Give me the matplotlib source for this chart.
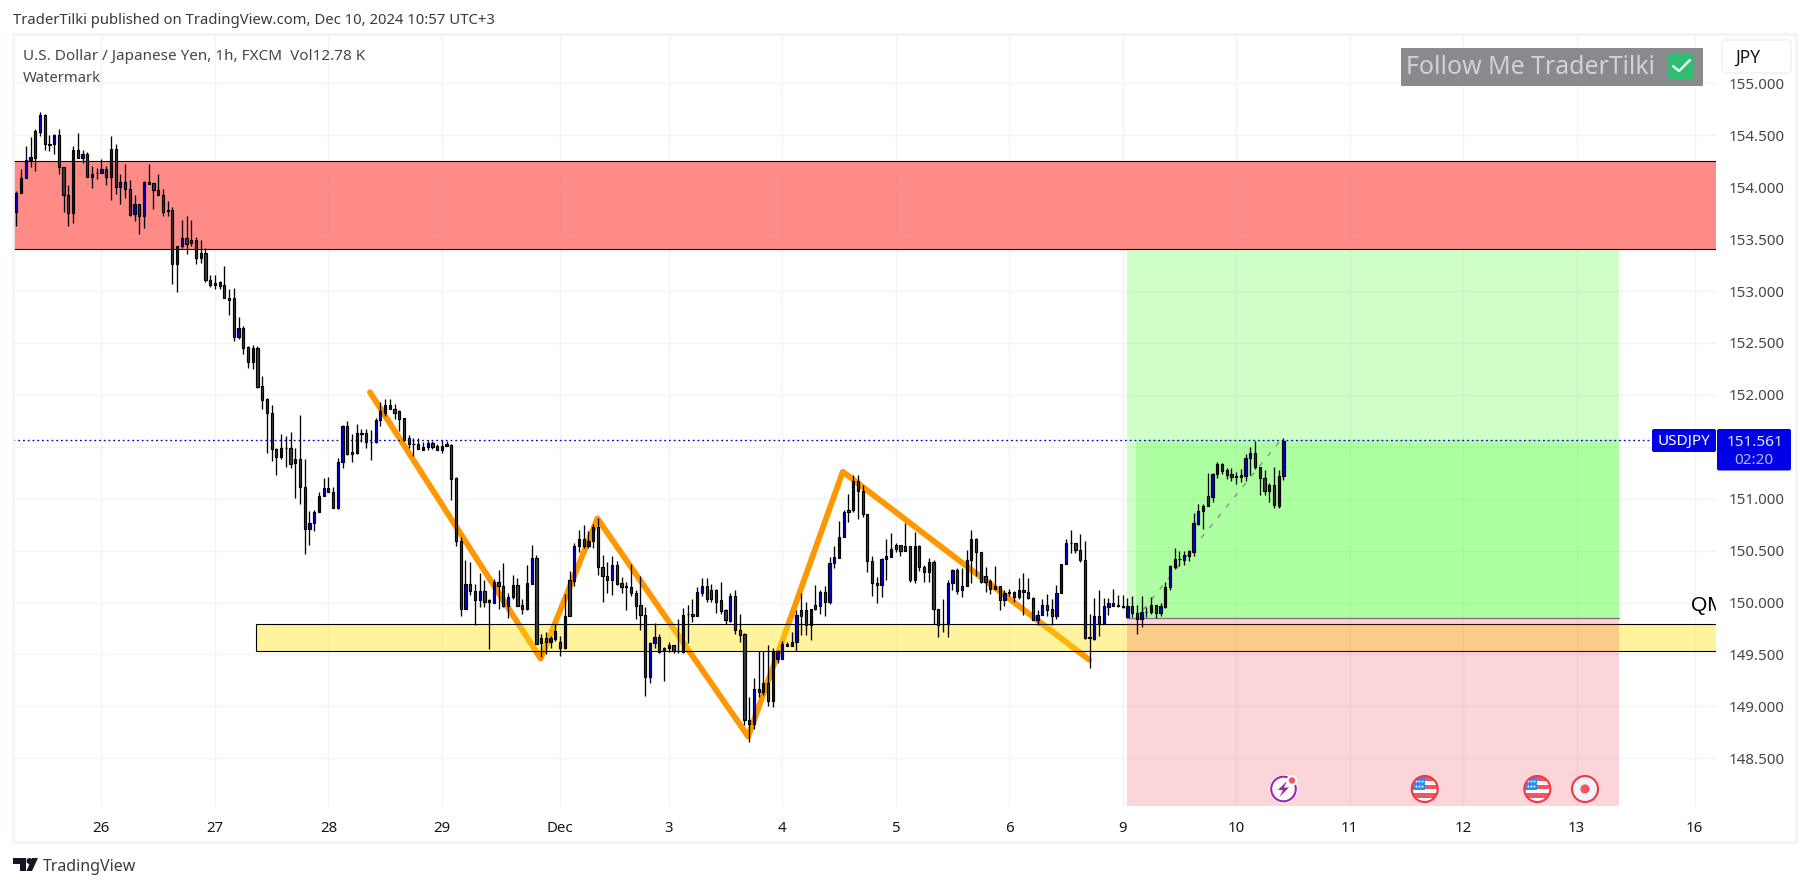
import matplotlib
matplotlib.use("Agg")
import matplotlib.pyplot as plt
from matplotlib.patches import Rectangle, Circle, FancyBboxPatch, Polygon

# ---------- data ----------
opens = [153.76,153.94,154.09,154.26,154.54,154.53,154.69,154.42,154.42,154.50,
154.19,153.92,153.75,154.36,154.28,154.32,154.10,154.14,154.14,154.17,
154.10,154.37,154.00,154.05,153.98,153.74,153.84,153.72,154.05,154.04,
153.97,153.92,153.78,153.78,153.26,153.43,153.51,153.49,153.49,153.32,
153.37,153.11,153.08,153.05,153.06,152.93,152.93,152.56,152.64,152.46,
152.32,152.45,152.09,151.96,151.83,151.48,151.40,151.49,151.49,151.34,
151.38,151.11,150.71,150.77,150.87,151.03,151.10,151.06,150.91,151.35,
151.70,151.45,151.44,151.63,151.63,151.55,151.55,151.76,151.83,151.90,
151.86,151.84,151.78,151.58,151.53,151.53,151.47,151.50,151.54,151.51,
151.47,151.53,151.52,151.20,150.59,149.94,150.18,150.11,150.02,150.11,
150.02,150.00,150.20,150.16,149.97,150.05,150.17,149.98,149.94,150.18,
150.43,149.61,149.66,149.62,149.65,149.62,149.56,150.22,150.21,150.54,
150.61,150.54,150.59,150.73,150.34,150.26,150.22,150.36,150.19,150.16,
150.15,150.09,149.98,149.88,149.28,149.61,149.67,149.53,149.56,149.59,
149.53,149.52,149.89,149.89,149.87,150.09,150.16,150.12,150.12,150.02,
149.93,149.82,150.06,149.74,149.70,148.87,148.83,149.17,149.14,149.23,
149.05,149.46,149.46,149.60,149.58,149.62,149.93,149.93,149.78,149.98,
149.97,150.10,150.01,150.38,150.43,150.63,150.89,150.89,151.17,151.07,
150.85,150.40,150.19,150.17,150.42,150.44,150.55,150.55,150.54,150.54,
150.22,150.54,150.34,150.29,150.39,149.94,149.79,149.79,150.19,150.31,
150.12,150.16,150.41,150.61,150.49,150.26,150.21,150.13,150.16,150.02,
150.10,150.10,150.05,150.12,150.10,150.04,149.83,149.88,149.98,149.94,
149.87,150.09,150.37,150.57,150.57,150.51,150.41,149.67,149.65,149.87,
149.79,149.96,150.00,149.98,149.97,149.86,149.97,149.90,149.84,149.91,
149.91,149.98,149.90,149.96,150.15,150.34,150.42,150.41,150.45,150.49,
150.76,150.88,151.03,151.02,151.24,151.33,151.28,151.24,151.22,151.21,
151.22,151.39,151.44,151.31,151.20,151.07,151.13,150.93,151.22]
closes = [153.94,154.09,154.26,154.29,154.28,154.69,154.42,154.41,154.50,154.19,
153.92,153.75,154.36,154.28,154.32,154.10,154.13,154.14,154.17,154.10,
154.37,154.00,154.05,153.98,153.73,153.84,153.72,154.05,154.03,153.97,
153.92,153.76,153.77,153.26,153.43,153.51,153.45,153.46,153.32,153.37,
153.11,153.06,153.06,153.09,152.93,152.91,152.56,152.64,152.45,152.32,
152.45,152.08,151.95,151.83,151.48,151.40,151.49,151.49,151.33,151.38,
151.11,150.71,150.77,150.87,151.03,151.10,151.06,150.91,151.35,151.70,
151.43,151.43,151.63,151.62,151.55,151.55,151.76,151.84,151.90,151.86,
151.83,151.77,151.57,151.53,151.53,151.48,151.50,151.54,151.50,151.47,
151.51,151.51,151.19,150.59,149.94,150.18,150.11,150.02,150.11,150.01,
150.01,150.20,150.16,149.97,150.05,150.17,149.97,149.94,150.19,150.43,
149.60,149.66,149.62,149.66,149.73,149.56,149.87,149.87,150.54,150.61,
150.54,150.59,150.73,150.34,150.26,150.22,150.36,150.18,150.15,150.15,
150.09,149.97,149.88,149.28,149.61,149.67,149.52,149.56,149.59,149.53,
149.53,149.88,149.89,149.87,150.10,150.16,150.03,150.03,150.01,149.92,
149.83,150.06,149.74,149.69,148.87,148.83,149.17,149.14,149.23,149.05,
149.53,149.53,149.60,149.58,149.62,149.88,149.87,149.78,149.94,149.94,
150.10,150.01,150.38,150.44,150.63,150.87,150.87,151.17,151.07,150.85,
150.40,150.19,150.17,150.42,150.45,150.52,150.52,150.50,150.50,150.22,
150.54,150.34,150.29,150.39,149.94,149.78,149.79,150.19,150.31,150.11,
150.16,150.41,150.61,150.49,150.20,150.20,150.13,150.16,150.02,150.09,
150.09,150.05,150.12,150.10,150.04,149.83,149.88,149.98,149.93,149.87,
150.09,150.37,150.57,150.57,150.51,150.41,149.66,149.66,149.87,149.79,
149.97,150.00,149.97,149.97,149.96,149.97,149.90,149.84,149.91,149.91,
149.98,149.90,149.97,150.15,150.35,150.42,150.42,150.46,150.50,150.77,
150.88,150.93,150.93,151.24,151.33,151.27,151.23,151.21,151.21,151.23,
151.39,151.44,151.31,151.20,151.07,151.13,150.94,151.22,151.56]
highs = [153.96,154.17,154.40,154.48,154.56,154.72,154.70,154.50,154.51,154.56,
154.19,154.02,154.40,154.52,154.36,154.34,154.20,154.18,154.27,154.20,
154.49,154.42,154.13,154.22,154.07,153.92,153.84,154.06,154.22,154.04,
154.13,153.98,153.87,153.81,153.43,153.68,153.72,153.68,153.52,153.49,
153.41,153.15,153.15,153.10,153.24,153.02,153.03,152.75,152.66,152.47,
152.48,152.47,152.18,151.97,151.90,151.49,151.62,151.60,151.64,151.49,
151.81,151.38,150.88,150.89,151.06,151.20,151.21,151.11,151.39,151.71,
151.75,151.62,151.72,151.67,151.67,151.66,151.78,151.93,151.96,151.96,
151.91,151.85,151.78,151.61,151.58,151.58,151.55,151.57,151.56,151.53,
151.57,151.56,151.53,151.21,150.63,150.41,150.39,150.18,150.28,150.22,
150.03,150.23,150.31,150.38,150.09,150.27,150.24,150.03,150.36,150.55,
150.46,149.70,149.72,149.68,149.79,149.68,150.08,150.30,150.57,150.70,
150.75,150.69,150.76,150.81,150.46,150.39,150.45,150.40,150.25,150.20,
150.37,150.12,150.26,149.96,149.62,149.80,149.70,149.57,149.62,149.59,
149.84,149.95,149.98,150.03,150.15,150.24,150.24,150.18,150.13,150.20,
149.94,150.09,150.12,149.89,149.71,149.09,149.27,149.53,149.53,149.59,
149.56,149.54,149.63,149.62,149.72,149.93,150.09,150.01,149.94,150.17,
150.12,150.16,150.44,150.54,150.79,150.89,151.05,151.23,151.23,151.13,
150.85,150.45,150.25,150.43,150.61,150.67,150.57,150.55,150.77,150.54,
150.68,150.55,150.36,150.43,150.41,149.94,150.03,150.22,150.32,150.33,
150.33,150.51,150.70,150.62,150.49,150.34,150.23,150.35,150.16,150.12,
150.13,150.11,150.24,150.28,150.24,150.05,149.93,150.03,150.08,150.03,
150.17,150.37,150.61,150.70,150.57,150.66,150.59,149.89,150.04,150.12,
150.04,150.04,150.13,150.07,150.07,150.04,150.06,149.98,150.06,149.96,
150.05,149.98,150.00,150.20,150.36,150.53,150.50,150.50,150.51,150.86,
150.95,150.95,151.25,151.25,151.35,151.34,151.30,151.30,151.26,151.29,
151.43,151.50,151.56,151.31,151.28,151.15,151.31,151.28,151.58]
lows = [153.63,153.94,154.09,154.19,154.16,154.49,154.36,154.35,154.32,154.13,
153.76,153.63,153.65,154.28,154.23,154.10,153.99,154.08,154.14,154.02,
153.88,153.93,153.84,153.90,153.72,153.67,153.55,153.61,154.03,153.79,
153.92,153.72,153.72,153.07,152.99,153.41,153.36,153.43,153.26,153.27,
153.09,153.04,153.02,153.02,152.93,152.77,152.52,152.54,152.39,152.26,
152.25,152.07,151.86,151.44,151.36,151.23,151.38,151.31,151.30,151.01,
150.95,150.47,150.55,150.69,150.87,151.03,151.06,150.91,150.90,151.30,
151.42,151.35,151.43,151.55,151.49,151.37,151.54,151.70,151.80,151.86,
151.77,151.65,151.56,151.49,151.41,151.48,151.47,151.47,151.48,151.47,
151.44,151.51,150.99,150.54,149.87,149.94,150.07,149.78,149.96,149.96,
149.55,150.00,149.94,149.96,149.85,150.03,149.97,149.89,149.93,150.18,
149.60,149.48,149.50,149.56,149.63,149.49,149.55,149.87,150.16,150.49,
150.53,150.53,150.53,150.27,150.01,150.09,150.07,150.17,150.09,149.93,
150.06,149.84,149.74,149.10,149.23,149.56,149.51,149.24,149.52,149.51,
149.51,149.51,149.61,149.81,149.87,150.06,150.01,150.01,149.90,149.89,
149.79,149.81,149.70,149.62,148.82,148.66,148.78,149.09,149.11,149.00,
148.99,149.42,149.46,149.58,149.58,149.53,149.69,149.69,149.64,149.93,
149.89,149.87,149.99,150.33,150.43,150.63,150.78,150.87,150.80,150.82,
150.29,150.06,150.00,150.05,150.22,150.44,150.49,150.45,150.50,150.20,
150.19,150.30,150.20,150.20,149.79,149.67,149.72,149.67,150.12,150.08,
150.05,150.16,150.19,150.26,150.19,150.10,150.08,150.13,149.93,149.97,
150.06,150.01,150.03,149.88,150.03,149.83,149.78,149.88,149.87,149.78,
149.84,150.09,150.37,150.48,150.48,150.39,149.65,149.37,149.64,149.68,
149.79,149.88,149.97,149.96,149.95,149.86,149.86,149.70,149.76,149.86,
149.89,149.85,149.87,149.95,150.12,150.32,150.35,150.36,150.40,150.45,
150.75,150.71,150.93,150.97,151.20,151.24,151.19,151.17,151.14,151.16,
151.17,151.23,151.29,151.04,151.04,150.97,150.91,150.91,151.18]

price_ticks = [155.0,154.5,154.0,153.5,153.0,152.5,152.0,151.5,151.0,150.5,150.0,149.5,149.0,148.5]
date_bars = [18,42,66,90,115,138,162,186,210,234,258,282,306,330,355]
date_labels = ['26','27','28','29','Dec','3','4','5','6','9','10','11','12','13','16']

swing_bars = [74.8,110.9,122.9,154.8,174.8,226.9]
swing_prices = [152.025,149.46,150.81,148.71,151.26,149.45]

resistance_zone = (153.40,154.25)
support_zone = (149.53,149.798)
support_start_bar = 50.7
last_price = 151.561
position_bars = (234.9,236.8,339.0)
position_entry, position_target, position_stop = 149.848,153.395,148.04
path_bars = [238.3,267.6]
path_prices = [149.93,151.575]

# ---------- layout ----------
W, H = 1809, 888
fig = plt.figure(figsize=(W/100, H/100), dpi=100, facecolor='white')
plt.rcParams['font.family'] = ['Noto Sans', 'DejaVu Sans']
L, R, T, B = 13, 1716, 35, 806
ax = fig.add_axes([L/W, 1-B/H, (R-L)/W, (B-T)/H])
PX = 4.728
ax.set_xlim((L-16.33)/PX, (R-16.33)/PX)
ax.set_ylim(155-(B-83.3)/103.85, 155+(83.3-T)/103.85)
for s in ax.spines.values():
    s.set_visible(False)

GRID = '#F0F3FA'
ax.set_axisbelow(True)
ax.set_yticks(price_ticks)
# the 151.500 label sits under the last-price box in the reference
ax.set_yticklabels(['' if p == 151.5 else f'{p:.3f}' for p in price_ticks])
ax.set_xticks(date_bars)
ax.set_xticklabels(date_labels)
ax.yaxis.tick_right()
ax.tick_params(axis='y', length=0, pad=9.2, labelsize=10.9, labelcolor='#434651')
ax.tick_params(axis='x', length=0, pad=10.5, labelsize=10.8, labelcolor='#131722')
ax.get_xticklabels()[4].set_fontweight('bold')
ax.grid(True, color=GRID, lw=1.0)

# swing line (under the zones)
ax.plot(swing_bars, swing_prices, color='#FF9800', lw=4.2, solid_joinstyle='round',
        solid_capstyle='round', zorder=1.5)

# zones
xl = ax.get_xlim()
ax.add_patch(Rectangle((xl[0]-2, resistance_zone[0]), xl[1]-xl[0]+4, resistance_zone[1]-resistance_zone[0],
                       facecolor=(1, 85/255, 78/255, .68), edgecolor='black', lw=0.8, zorder=2))
ax.add_patch(Rectangle((support_start_bar, support_zone[0]), xl[1]-support_start_bar+4, support_zone[1]-support_zone[0],
                       facecolor=(1, 225/255, 10/255, .4), edgecolor='black', lw=0.8, zorder=2.2))

# long position
p0, p1, p2 = position_bars
ax.add_patch(Rectangle((p0, position_entry), p2-p0, position_target-position_entry,
                       facecolor=(41/255, 1, 5/255, .22), edgecolor='none', zorder=3))
ax.add_patch(Rectangle((p0, position_stop), p2-p0, position_entry-position_stop,
                       facecolor=(235/255, 45/255, 55/255, .2), edgecolor='none', zorder=3))
ax.add_patch(Rectangle((p1, position_entry), p2-p1, last_price-position_entry,
                       facecolor=(41/255, 1, 5/255, .2), edgecolor='none', zorder=3))
ax.plot([p0, p2], [position_entry]*2, color='#787B86', lw=1.0, zorder=3.2)
ax.plot(path_bars, path_prices, color='#8a8d96', lw=1.0, ls=(0, (3.5, 6)), zorder=3.3)

# last-price line
ax.axhline(last_price, color='#0000E6', lw=0.95, ls=(0, (1.4, 2.2)), zorder=3.5)

# candles
bars = list(range(len(opens)))
UP, DOWN = '#0000DC', '#3C3C3C'
ax.vlines(bars, lows, highs, color='black', lw=0.95, zorder=5)
ax.bar(bars, [abs(c-o) for o, c in zip(opens, closes)], bottom=[min(o, c) for o, c in zip(opens, closes)],
       width=0.47, color=[UP if c > o else DOWN for o, c in zip(opens, closes)],
       edgecolor='black', linewidth=0.85, zorder=6)

ax.text((1690.7-16.33)/PX, 155-(605.7-83.3)/103.85, 'QM', fontsize=15, color='black',
        family=['Liberation Sans'], ha='left', va='center', clip_on=True, zorder=7)

# ---------- overlay in pixel coordinates ----------
d = fig.add_axes([0, 0, 1, 1], facecolor='none')
d.set_xlim(0, W)
d.set_ylim(H, 0)
d.axis('off')

d.add_patch(Rectangle((13, 34.5), 1783, 807.5, fill=False, edgecolor=GRID, lw=1.9))

TXT = '#434651'
d.text(13, 20.5, 'TraderTilki published on TradingView.com, Dec 10, 2024 10:57 UTC+3',
       fontsize=10.7, color='#363a45', va='center', ha='left')
d.text(23, 56, 'U.S. Dollar / Japanese Yen, 1h, FXCM  Vol12.78 K', fontsize=11, color=TXT, va='center')
d.text(23, 78, 'Watermark', fontsize=10.7, color=TXT, va='center')

# watermark
d.add_patch(Rectangle((1401, 48), 302, 38, facecolor='#898A8E', edgecolor='none'))
d.text(1406, 68, 'Follow Me TraderTilki', fontsize=17.9, color='#D2D2D4', va='center', ha='left')
d.add_patch(FancyBboxPatch((1670, 55), 22, 22, boxstyle='round,pad=2,rounding_size=4',
                           facecolor='#2EBD72', edgecolor='none'))
d.plot([1673, 1679, 1690], [66, 71, 60], color='#E8F6EE', lw=1.8, solid_capstyle='round')

# JPY button
d.add_patch(FancyBboxPatch((1722, 40), 69, 33, boxstyle='round,pad=0,rounding_size=4',
                           facecolor='white', edgecolor=GRID, lw=1.3))
d.text(1747.5, 57.5, 'JPY', fontsize=12.5, color='#131722', ha='center', va='center')

# last-price labels
BLUE = '#0000E6'
d.add_patch(FancyBboxPatch((1652, 429), 64, 23, boxstyle='round,pad=0,rounding_size=2',
                           facecolor=BLUE, edgecolor='none'))
d.text(1684, 441, 'USDJPY', fontsize=11, color='white', ha='center', va='center')
d.add_patch(FancyBboxPatch((1717, 429), 74, 41.5, boxstyle='round,pad=0,rounding_size=2',
                           facecolor=BLUE, edgecolor='none'))
d.text(1755.5, 442, '151.561', fontsize=11, color='#E8E8FA', ha='center', va='center')
d.text(1754, 460, '02:20', fontsize=11, color='#B9B9F0', ha='center', va='center')

# event icons
EY = 789
c = Circle((1283.5, EY), 13.5, facecolor='white', edgecolor='white', lw=1)
d.add_patch(c)
d.add_patch(Circle((1283.5, EY), 12.3, facecolor='white', edgecolor='#9C27B0', lw=1.5))
d.add_patch(Polygon([(1287, 781), (1278, 790), (1283, 790), (1279.5, 797), (1289, 787.5), (1284, 787.5)],
                    closed=True, facecolor='#9C27B0', edgecolor='none'))
d.add_patch(Circle((1292, 780.5), 5.5, facecolor='white', edgecolor='none'))
d.add_patch(Circle((1292, 780.5), 3.2, facecolor='#F7525F', edgecolor='none'))

def flag(cx):
    disc = Circle((cx, EY), 12.5, facecolor='white', edgecolor='none')
    d.add_patch(disc)
    for y0, h in ((777, 4), (785, 4), (793, 4.5)):
        r = Rectangle((cx-13, y0), 26, h, facecolor='#F7525F', edgecolor='none')
        d.add_patch(r)
        r.set_clip_path(disc)
    r = Rectangle((cx-13, 777), 13, 13, facecolor='#2E8BEF', edgecolor='none')
    d.add_patch(r)
    r.set_clip_path(disc)
    d.plot([cx-9, cx-6, cx-3, cx-9, cx-6, cx-3], [781, 781, 781, 786, 786, 786], ls='none',
           marker='s', ms=1.2, color='white', mew=0)
    d.add_patch(Circle((cx, EY), 13, fill=False, edgecolor='#F23645', lw=1.5))

flag(1424.7)
flag(1537.3)
d.add_patch(Circle((1585, EY), 13, facecolor='#F0F3FA', edgecolor='#F23645', lw=1.5))
d.add_patch(Circle((1585, EY), 4.6, facecolor='#F7525F', edgecolor='none'))

# logo
LOGO = '#131722'
d.add_patch(Polygon([(13, 858), (26, 858), (26, 871), (20, 871), (20, 864), (13, 864)], closed=True,
                    facecolor=LOGO, edgecolor='none'))
d.add_patch(Circle((29.5, 861), 3, facecolor=LOGO, edgecolor='none'))
d.add_patch(Polygon([(32, 858), (38, 858), (32, 871), (26.5, 871)], closed=True, facecolor=LOGO, edgecolor='none'))
d.text(43, 866.5, 'TradingView', fontsize=11.5, color='#363a45', va='center', ha='left')

fig.savefig('out.png', dpi=100, facecolor='white')
